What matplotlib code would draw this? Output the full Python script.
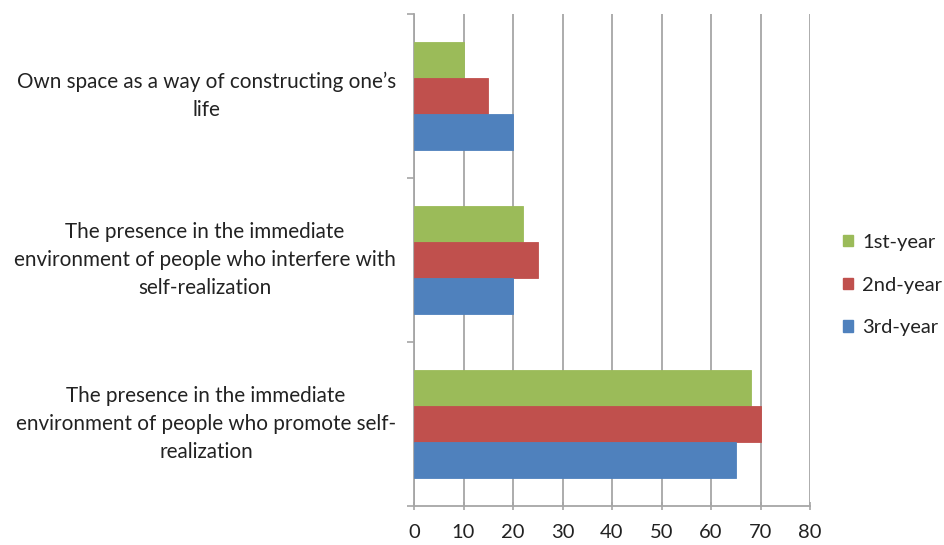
import matplotlib
matplotlib.use("Agg")
import matplotlib.pyplot as plt
from matplotlib.patches import Patch
from matplotlib.transforms import blended_transform_factory

plt.rcParams['font.family'] = ['Lato', 'DejaVu Sans']

categories = [
    "The presence in the immediate\nenvironment of people who promote self-\nrealization",
    "The presence in the immediate\nenvironment of people who interfere with\nself-realization",
    "Own space as a way of constructing one\u2019s\nlife",
]
series_names = ["1st-year", "2nd-year", "3rd-year"]
first_year = [68, 22, 10]
second_year = [70, 25, 15]
third_year = [65, 20, 20]
xticks = [0, 10, 20, 30, 40, 50, 60, 70, 80]

colors = ["#9BBB59", "#C0504D", "#4F81BD"]
grid_c = "#A6A6A6"

W, H = 944, 545
fig = plt.figure(figsize=(W / 100, H / 100), dpi=100)
ax = fig.add_axes([414 / W, 1 - 506 / H, (810 - 414) / W, (506 - 14) / H])

h = 0.22
ys = list(range(len(categories)))
for vals, off, c in zip([first_year, second_year, third_year], [h, 0, -h], colors):
    ax.barh([y + off for y in ys], vals, height=h, color=c, edgecolor=c, linewidth=0.6, zorder=3)

ax.set_xlim(0, 80)
ax.set_ylim(-0.5, len(categories) - 0.5)
ax.set_xticks(xticks)
ax.set_xticklabels([str(v) for v in xticks], fontsize=14.5, color="#222222")
ax.set_yticks([i - 0.5 for i in range(len(categories) + 1)])
ax.set_yticklabels([])
ax.tick_params(axis='y', length=5, width=1.2, color=grid_c, direction='out')
ax.tick_params(axis='x', length=6, width=1.2, color=grid_c, direction='inout', pad=10)
ax.xaxis.grid(True, color=grid_c, linewidth=1.3, zorder=0)
ax.set_axisbelow(True)
for s in ['top', 'right']:
    ax.spines[s].set_visible(False)
for s in ['left', 'bottom']:
    ax.spines[s].set_color(grid_c)
    ax.spines[s].set_linewidth(1.3)

trans = blended_transform_factory(fig.transFigure, ax.transData)
for y, lab in zip(ys, categories):
    ax.text(396 / W, y, lab, transform=trans, ha='right', va='center',
            multialignment='center', fontsize=14.9, color="#222222", linespacing=1.52)

handles = [Patch(facecolor=c, edgecolor=c) for c in colors]
fig.legend(handles, series_names, loc='center left', bbox_to_anchor=(843 / W, 1 - 285 / H),
           frameon=False, fontsize=14.5, handlelength=0.5, handleheight=0.5,
           labelspacing=1.28, handletextpad=0.45, borderpad=0, borderaxespad=0,
           labelcolor="#222222")

fig.savefig("out.png", dpi=100)
